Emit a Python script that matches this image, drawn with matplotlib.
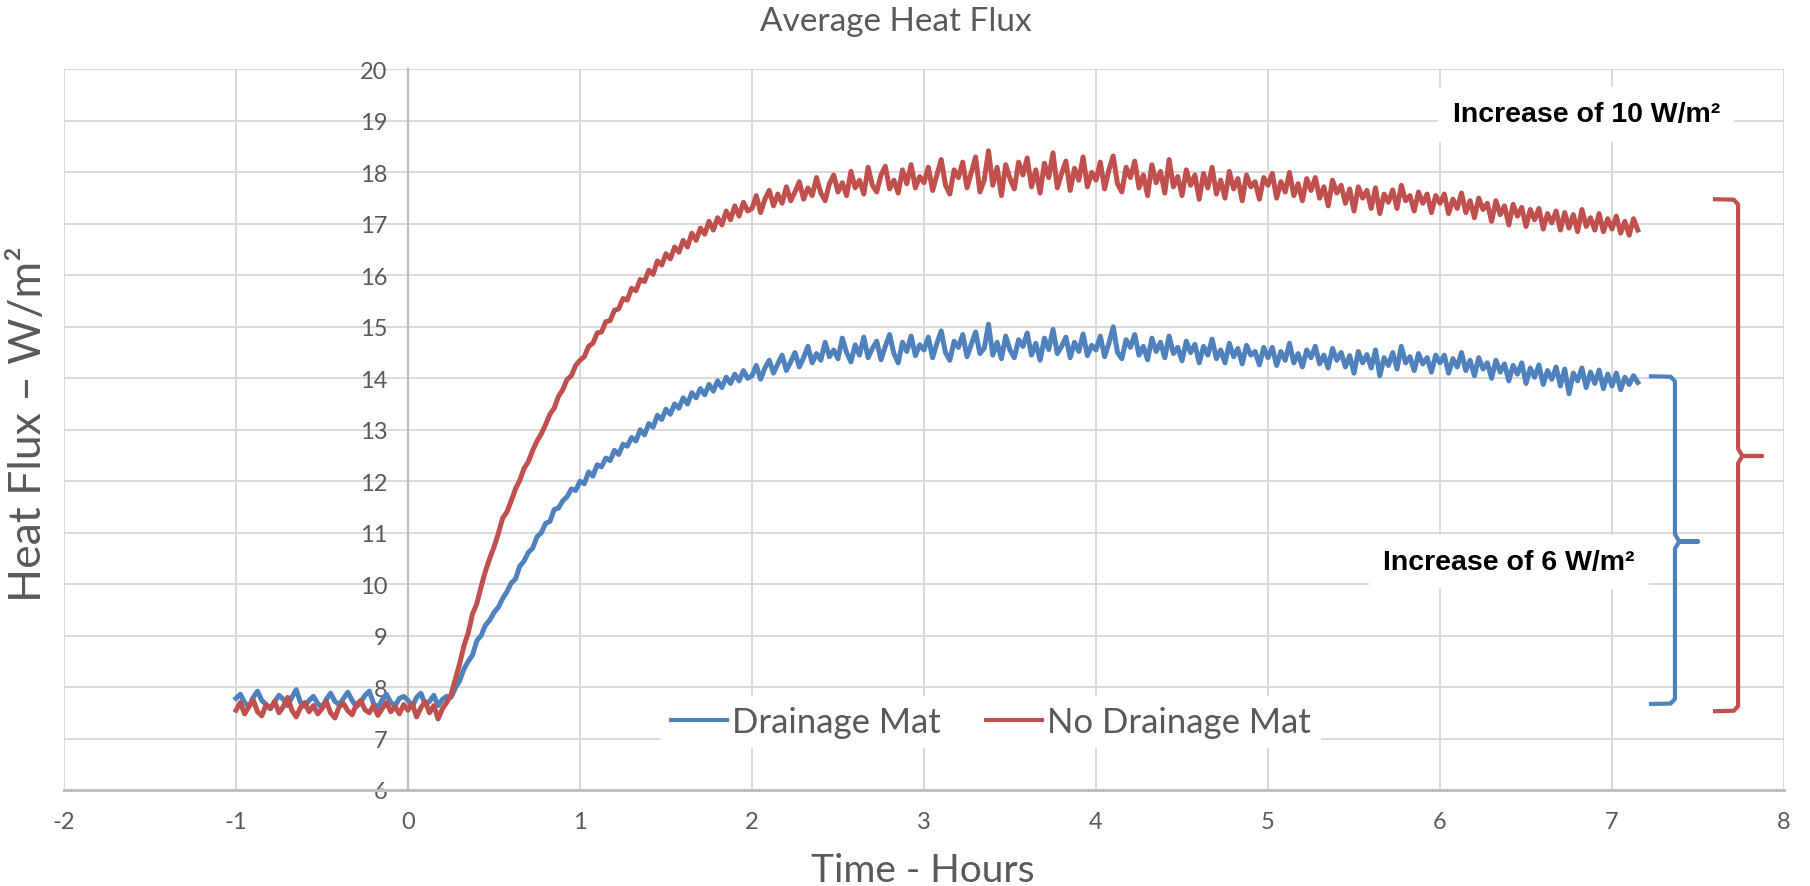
import numpy as np
import matplotlib
matplotlib.use("Agg")
import matplotlib.pyplot as plt

# sample times in hours (one reading every 0.025 h)
hours = np.round(np.arange(-1.0, 7.1501, 0.025), 3)

drainage_mat = [
    # -1 .. 0 h
    7.78, 7.86, 7.70, 7.62, 7.80, 7.92, 7.74, 7.66, 7.58, 7.72, 7.84, 7.76, 7.64, 7.80, 7.95, 7.70, 7.62, 7.74, 7.82, 7.68,
    7.60, 7.76, 7.88, 7.72, 7.66, 7.78, 7.90, 7.74, 7.62, 7.70, 7.84, 7.92, 7.68, 7.60, 7.75, 7.86, 7.70, 7.64, 7.78, 7.82,
    # 0 .. 1 h
    7.74, 7.62, 7.80, 7.88, 7.66, 7.72, 7.84, 7.64, 7.76, 7.82, 7.80, 7.98, 8.12, 8.35, 8.50, 8.62, 8.90, 9.00, 9.20, 9.30,
    9.45, 9.55, 9.72, 9.85, 10.02, 10.10, 10.35, 10.45, 10.62, 10.70, 10.92, 11.00, 11.18, 11.22, 11.45, 11.48, 11.62, 11.70, 11.85, 11.82,
    # 1 .. 2 h
    12.00, 11.95, 12.18, 12.10, 12.32, 12.28, 12.45, 12.40, 12.60, 12.52, 12.72, 12.68, 12.85, 12.78, 13.00, 12.90, 13.12, 13.05, 13.28, 13.20,
    13.40, 13.30, 13.50, 13.42, 13.62, 13.50, 13.72, 13.62, 13.80, 13.68, 13.88, 13.75, 13.95, 13.82, 14.02, 13.90, 14.08, 13.95, 14.15, 14.00,
    # 2 .. 3 h
    14.05, 14.25, 13.98, 14.20, 14.35, 14.10, 14.28, 14.45, 14.15, 14.32, 14.50, 14.22, 14.40, 14.62, 14.30, 14.48, 14.35, 14.70, 14.42, 14.55,
    14.38, 14.78, 14.50, 14.32, 14.65, 14.45, 14.80, 14.40, 14.58, 14.72, 14.36, 14.62, 14.85, 14.48, 14.30, 14.70, 14.52, 14.82, 14.44, 14.65,
    # 3 .. 4 h
    14.55, 14.80, 14.40, 14.68, 14.92, 14.50, 14.35, 14.72, 14.60, 14.85, 14.42, 14.66, 14.90, 14.48, 14.58, 15.05, 14.45, 14.70, 14.38, 14.82,
    14.55, 14.40, 14.75, 14.62, 14.88, 14.45, 14.68, 14.35, 14.78, 14.56, 14.95, 14.48, 14.62, 14.80, 14.40, 14.70, 14.52, 14.86, 14.44, 14.64,
    # 4 .. 5 h
    14.55, 14.82, 14.42, 14.68, 15.00, 14.50, 14.38, 14.75, 14.60, 14.85, 14.45, 14.62, 14.36, 14.78, 14.52, 14.70, 14.40, 14.82, 14.48, 14.60,
    14.34, 14.72, 14.50, 14.66, 14.30, 14.62, 14.45, 14.76, 14.38, 14.55, 14.30, 14.68, 14.42, 14.58, 14.28, 14.64, 14.45, 14.52, 14.26, 14.60,
    # 5 .. 6 h
    14.40, 14.60, 14.25, 14.52, 14.35, 14.68, 14.30, 14.48, 14.22, 14.55, 14.40, 14.62, 14.28, 14.45, 14.20, 14.58, 14.35, 14.50, 14.22, 14.44,
    14.10, 14.52, 14.30, 14.46, 14.20, 14.55, 14.05, 14.40, 14.25, 14.50, 14.18, 14.62, 14.30, 14.42, 14.15, 14.48, 14.28, 14.40, 14.12, 14.45,
    # 6 .. 7 h
    14.30, 14.45, 14.10, 14.38, 14.22, 14.50, 14.15, 14.35, 14.05, 14.40, 14.18, 14.30, 14.00, 14.35, 14.12, 14.28, 13.95, 14.25, 14.08, 14.30,
    13.90, 14.20, 14.02, 14.26, 13.88, 14.15, 13.98, 14.22, 13.85, 14.18, 13.70, 14.10, 13.95, 14.20, 13.82, 14.12, 13.90, 14.16, 13.80, 14.08,
    # 7 .. 7.15 h
    13.85, 14.10, 13.78, 14.02, 13.88, 14.05, 13.92,
]

no_drainage_mat = [
    # -1 .. 0 h
    7.55, 7.70, 7.48, 7.62, 7.75, 7.52, 7.44, 7.66, 7.58, 7.72, 7.50, 7.62, 7.80, 7.55, 7.42, 7.60, 7.70, 7.52, 7.64, 7.48,
    7.58, 7.72, 7.50, 7.40, 7.62, 7.68, 7.54, 7.46, 7.66, 7.74, 7.56, 7.50, 7.64, 7.45, 7.58, 7.70, 7.52, 7.62, 7.48, 7.66,
    # 0 .. 1 h
    7.55, 7.68, 7.42, 7.60, 7.72, 7.50, 7.64, 7.38, 7.58, 7.70, 7.85, 8.15, 8.45, 8.80, 9.05, 9.42, 9.62, 9.95, 10.25, 10.50,
    10.72, 10.98, 11.28, 11.40, 11.62, 11.85, 12.02, 12.25, 12.38, 12.60, 12.78, 12.92, 13.10, 13.30, 13.42, 13.65, 13.78, 13.98, 14.05, 14.25,
    # 1 .. 2 h
    14.35, 14.42, 14.62, 14.68, 14.88, 14.90, 15.10, 15.12, 15.32, 15.35, 15.55, 15.52, 15.75, 15.70, 15.92, 15.88, 16.10, 16.02, 16.28, 16.20,
    16.42, 16.32, 16.55, 16.45, 16.68, 16.55, 16.82, 16.68, 16.92, 16.80, 17.05, 16.88, 17.12, 16.98, 17.25, 17.08, 17.35, 17.15, 17.42, 17.25,
    # 2 .. 3 h
    17.30, 17.55, 17.22, 17.48, 17.65, 17.35, 17.58, 17.40, 17.72, 17.45, 17.62, 17.82, 17.48, 17.70, 17.55, 17.90, 17.60, 17.45, 17.78, 17.95,
    17.62, 17.80, 17.55, 18.02, 17.70, 17.85, 17.58, 18.10, 17.75, 17.62, 17.95, 18.12, 17.68, 17.85, 17.60, 18.05, 17.78, 18.15, 17.70, 17.92,
    # 3 .. 4 h
    17.80, 18.10, 17.65, 17.95, 18.25, 17.75, 17.58, 18.05, 17.90, 18.20, 17.70, 18.00, 18.30, 17.62, 17.85, 18.42, 17.75, 18.10, 17.55, 18.15,
    17.88, 17.68, 18.20, 17.95, 18.28, 17.72, 18.05, 17.60, 18.18, 17.90, 18.38, 17.70, 17.98, 18.22, 17.65, 18.08, 17.85, 18.30, 17.72, 18.00,
    # 4 .. 5 h
    17.85, 18.20, 17.68, 18.05, 18.32, 17.78, 17.62, 18.10, 17.90, 18.22, 17.70, 17.95, 17.55, 18.15, 17.80, 18.02, 17.60, 18.25, 17.72, 17.92,
    17.55, 18.05, 17.75, 17.95, 17.48, 17.98, 17.70, 18.10, 17.58, 17.85, 17.50, 18.02, 17.68, 17.88, 17.45, 17.95, 17.72, 17.82, 17.48, 17.90,
    # 5 .. 6 h
    17.75, 17.98, 17.50, 17.82, 17.62, 18.00, 17.55, 17.78, 17.45, 17.88, 17.65, 17.90, 17.50, 17.72, 17.35, 17.85, 17.60, 17.75, 17.40, 17.68,
    17.25, 17.72, 17.50, 17.65, 17.30, 17.70, 17.20, 17.58, 17.42, 17.66, 17.30, 17.75, 17.45, 17.55, 17.25, 17.62, 17.40, 17.58, 17.22, 17.55,
    # 6 .. 7 h
    17.40, 17.58, 17.20, 17.48, 17.30, 17.60, 17.22, 17.45, 17.12, 17.50, 17.28, 17.40, 17.05, 17.45, 17.18, 17.35, 16.98, 17.38, 17.15, 17.32,
    16.95, 17.28, 17.08, 17.30, 16.90, 17.20, 17.02, 17.25, 16.88, 17.22, 16.92, 17.18, 16.85, 17.28, 16.95, 17.12, 16.88, 17.20, 16.85, 17.10,
    # 7 .. 7.15 h
    16.90, 17.15, 16.82, 17.05, 16.78, 17.10, 16.88,
]

series_labels = ["Drainage Mat", "No Drainage Mat"]
x_ticks = list(range(-2, 9))
y_ticks = list(range(6, 21))

# braces: (arm end x, spine x, tip x, top y, middle y, bottom y)
blue_brace = (7.215, 7.366, 7.50, 14.04, 10.83, 7.67)
red_brace = (7.587, 7.733, 7.872, 17.48, 12.49, 7.53)

notes = [("Increase of 10 W/m\u00b2", 6.85, 19.13), ("Increase of 6 W/m\u00b2", 6.40, 10.43)]

BLUE = "#4F81BD"
RED = "#C0504D"
GREY_TEXT = "#595959"
GRID = "#D9D9D9"
AXIS = "#BFBFBF"

plt.rcParams["font.family"] = ["Lato", "DejaVu Sans"]
plt.rcParams["axes.unicode_minus"] = False


def brace_path(x0, x1, x2, top, mid, bot):
    """Points for a right-facing curly brace"""
    upper = [(x0, top), (x1 - 0.025, top - 0.01), (x1, top - 0.1),
             (x1, mid + 0.14), (x1 + 0.025, mid), (x2, mid)]
    lower = [(x2, mid), (x1 + 0.025, mid), (x1, mid - 0.14),
             (x1, bot + 0.1), (x1 - 0.025, bot + 0.01), (x0, bot)]
    return np.array(upper + lower[1:])


assert len(hours) == len(drainage_mat) == len(no_drainage_mat)

fig = plt.figure(figsize=(18.10, 8.87), dpi=100)
ax = fig.add_axes([0.03536, 0.10823, 0.95028, 0.81229])

ax.plot(hours, drainage_mat, color=BLUE, lw=3.6, label=series_labels[0], solid_joinstyle="round")
ax.plot(hours, no_drainage_mat, color=RED, lw=3.6, label=series_labels[1], solid_joinstyle="round")

ax.set_xlim(-2, 8)
ax.set_ylim(6, 20)
ax.set_xticks(x_ticks)
ax.set_yticks(y_ticks)
ax.grid(True, color=GRID, lw=1.4)
ax.set_axisbelow(True)

for side in ("top", "right"):
    ax.spines[side].set_visible(False)
ax.spines["left"].set_position(("data", 0))
ax.spines["left"].set_color(AXIS)
ax.spines["left"].set_linewidth(1.6)
ax.spines["bottom"].set_color(AXIS)
ax.spines["bottom"].set_linewidth(2.2)
ax.spines["left"].set_zorder(1.5)

ax.tick_params(axis="both", length=0, labelsize=17, labelcolor=GREY_TEXT)
ax.tick_params(axis="x", pad=15)
ax.tick_params(axis="y", pad=15)

for spec, col in ((blue_brace, BLUE), (red_brace, RED)):
    pts = brace_path(*spec)
    ax.plot(pts[:, 0], pts[:, 1], color=col, lw=3.0, clip_on=False,
            solid_joinstyle="round", solid_capstyle="butt")

for text, tx, ty in notes:
    ax.text(tx, ty, text, ha="center", va="center", fontsize=20.5, fontweight="bold",
            family=["Liberation Sans", "DejaVu Sans"], color="black", zorder=5,
            bbox=dict(boxstyle="square,pad=0.5", facecolor="white", edgecolor="none"))

leg = ax.legend(loc="center", bbox_to_anchor=(0.5475, 0.1849), bbox_transform=fig.transFigure,
                ncol=2, fontsize=25, handlelength=1.6, handletextpad=0.15, columnspacing=1.3,
                borderpad=0.3, frameon=True, fancybox=False, labelcolor=GREY_TEXT)
leg.get_frame().set_facecolor("white")
leg.get_frame().set_edgecolor("none")
leg.get_frame().set_alpha(1)
for line in leg.get_lines():
    line.set_linewidth(3.0)

fig.text(0.495, 1 - 22 / 887, "Average Heat Flux", ha="center", va="center",
         fontsize=24, color=GREY_TEXT)
fig.text(923 / 1810, 5 / 887, "Time - Hours", ha="center", va="baseline",
         fontsize=28, color=GREY_TEXT)
fig.text(29 / 1810, 1 - 424 / 887, "Heat Flux \u2013 W/m\u00b2", ha="center", va="center",
         rotation=90, fontsize=32, color=GREY_TEXT)

fig.savefig("out.png", dpi=100, facecolor="white")
